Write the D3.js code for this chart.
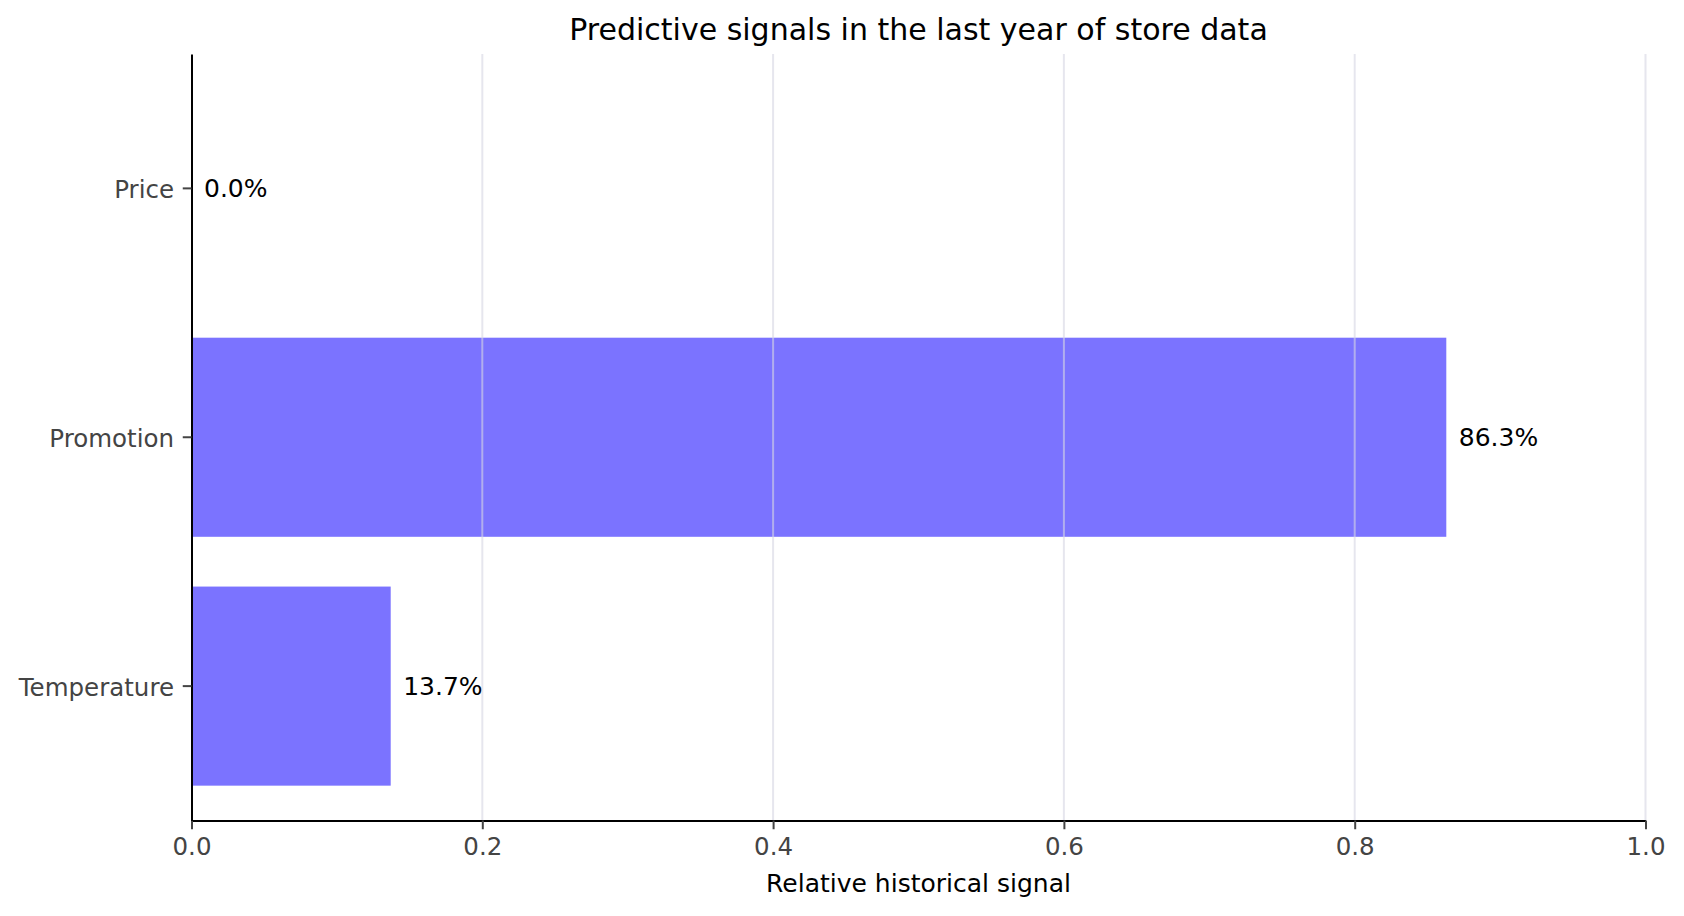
<!DOCTYPE html>
<html>
<head>
<meta charset="utf-8">
<script src="https://cdn.jsdelivr.net/npm/d3@7"></script>
<style>
    body { margin: 0; background: #fff; }
    svg { display: block; font-family: "DejaVu Sans", sans-serif; }
</style>
</head>
<body>
<svg id="chart" width="1684" height="916"></svg>
<script>
const categories = ['Price', 'Promotion', 'Temperature'];
const values = [0.0, 0.863, 0.137];
const xTicks = [0, 0.2, 0.4, 0.6, 0.8, 1.0];

const BAR_COLOR = '#7b73ff';
const TICK_COLOR = '#444';

const width = 1684;
const height = 916;
const margin = { top: 54, right: 38.5, bottom: 95.5, left: 191.5 };

const svg = d3.select('#chart');

const x = d3.scaleLinear()
    .domain([0, 1])
    .range([margin.left, width - margin.right]);

const y = d3.scaleBand()
    .domain(categories)
    .range([margin.top, height - margin.bottom])
    .paddingInner(0.2)
    .paddingOuter(0.14);

// bars
svg.append('g')
    .selectAll('rect')
    .data(categories)
    .join('rect')
    .attr('x', x(0))
    .attr('y', d => y(d))
    .attr('width', (d, i) => x(values[i]) - x(0))
    .attr('height', y.bandwidth())
    .attr('fill', BAR_COLOR);

// grid drawn over the bars, semi transparent
svg.append('g')
    .selectAll('line')
    .data(xTicks.slice(1))
    .join('line')
    .attr('x1', d => x(d))
    .attr('x2', d => x(d))
    .attr('y1', margin.top)
    .attr('y2', height - margin.bottom)
    .attr('stroke', '#d6d6e3')
    .attr('stroke-opacity', 0.6)
    .attr('stroke-width', 2);

// x axis
const xAxis = svg.append('g')
    .attr('transform', `translate(0,${height - margin.bottom})`)
    .call(d3.axisBottom(x).tickValues(xTicks).tickFormat(d3.format('.1f'))
        .tickSize(8.75).tickPadding(8.75).tickSizeOuter(0));

// y axis
const yAxis = svg.append('g')
    .attr('transform', `translate(${margin.left},0)`)
    .call(d3.axisLeft(y).tickSize(8.75).tickPadding(8.75).tickSizeOuter(0));

[xAxis, yAxis].forEach(g => {
    g.select('.domain').attr('stroke', '#000').attr('stroke-width', 2);
    g.selectAll('.tick line').attr('stroke', TICK_COLOR).attr('stroke-width', 2);
    g.selectAll('.tick text')
        .attr('fill', TICK_COLOR)
        .style('font-family', '"DejaVu Sans", sans-serif')
        .style('font-size', '24.5px');
});
yAxis.selectAll('.tick text').attr('dy', '0.4em');

// value labels
svg.append('g')
    .selectAll('text')
    .data(categories)
    .join('text')
    .attr('x', (d, i) => x(values[i]) + 12.5)
    .attr('y', d => y(d) + y.bandwidth() / 2)
    .attr('dy', '0.35em')
    .style('font-size', '25px')
    .attr('fill', '#000')
    .text((d, i) => `${(values[i] * 100).toFixed(1)}%`);

// title
svg.append('text')
    .attr('x', (margin.left + width - margin.right) / 2)
    .attr('y', 40)
    .attr('text-anchor', 'middle')
    .style('font-size', '30px')
    .attr('fill', '#000')
    .text('Predictive signals in the last year of store data');

// x axis title
svg.append('text')
    .attr('x', (margin.left + width - margin.right) / 2)
    .attr('y', 892)
    .attr('text-anchor', 'middle')
    .style('font-size', '25px')
    .attr('fill', '#000')
    .text('Relative historical signal');
</script>
</body>
</html>
